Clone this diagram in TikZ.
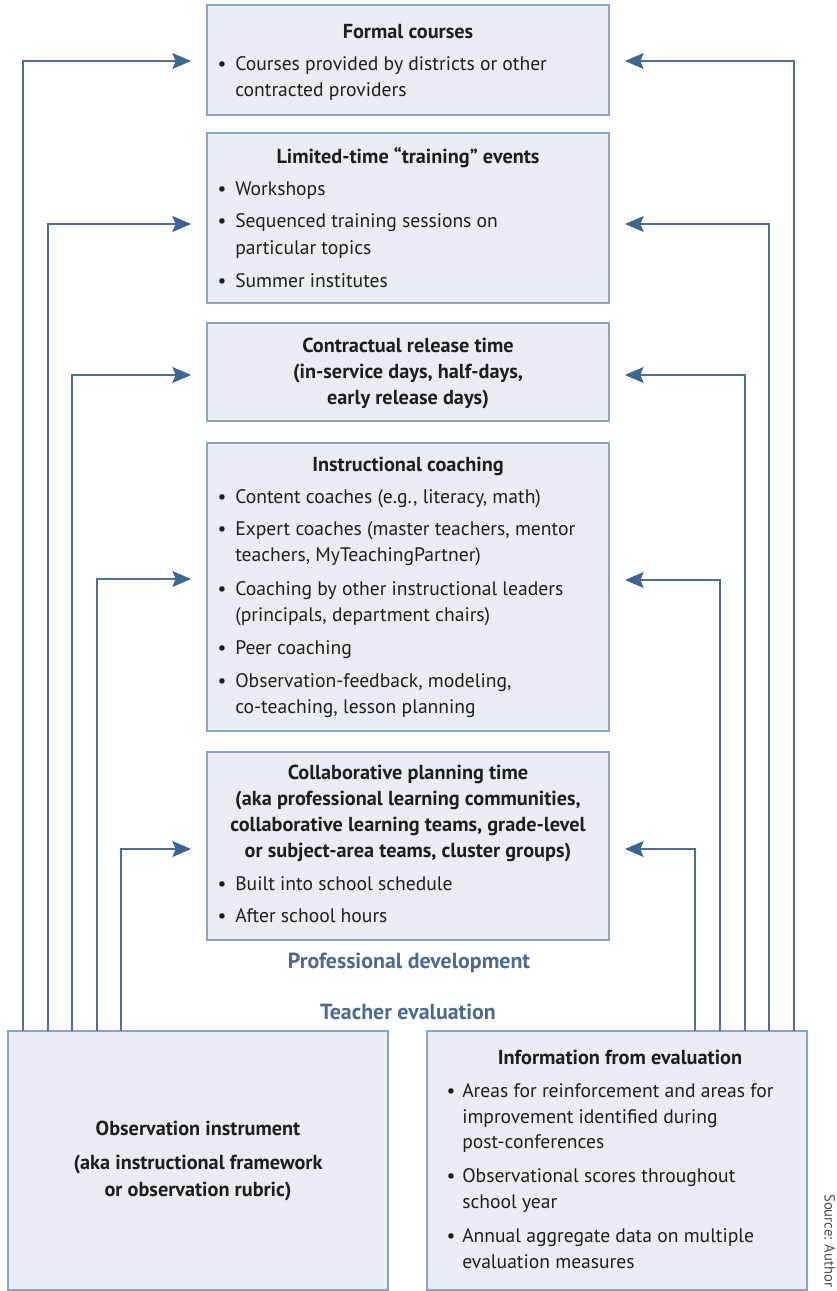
\documentclass[tikz,border=0pt]{standalone}
\usepackage{fontspec}
\setmainfont{PT Sans}
\usetikzlibrary{arrows.meta,fit}
\definecolor{boxfill}{HTML}{E9EDF3}
\definecolor{boxline}{HTML}{8DA2BC}
\definecolor{connc}{HTML}{4E6E94}
\definecolor{headc}{HTML}{3D6592}
\definecolor{labc}{HTML}{4A6A90}
\definecolor{ink}{HTML}{1E1E1E}
\begin{document}
\begin{tikzpicture}[x=0.75pt,y=-0.75pt,
  font=\fontsize{14.7}{17}\selectfont,
  pdbox/.style={draw=boxline, fill=boxfill, line width=0.9pt, inner sep=0pt, outer sep=0pt},
  txt/.style={anchor=mid west, inner sep=0pt, text=ink, yshift=-2.4pt},
  ttl/.style={anchor=mid, inner sep=0pt, text=ink, yshift=-2.4pt, font=\fontsize{15.2}{17}\selectfont\bfseries},
  bul/.style={anchor=mid, inner sep=0pt, text=ink, yshift=-2.4pt},
  sect/.style={anchor=mid, inner sep=0pt, text=labc, yshift=-2.4pt, font=\fontsize{16.4}{18}\selectfont\bfseries},
  connl/.style={draw=connc, line width=0.8pt, -{Stealth[length=14pt,width=12pt,inset=2.5pt,fill=headc,color=headc]}, shorten >=12pt},
  connr/.style={draw=connc, line width=0.8pt, -{Stealth[length=14pt,width=12pt,inset=2.5pt,fill=headc,color=headc]}, shorten >=12pt}
]
\useasboundingbox (0,0) rectangle (837,1291);

% professional development boxes
\node[pdbox, fit={(207,5) (609,115)}] (b1) {};
\node[pdbox, fit={(207,133) (609,303)}] (b2) {};
\node[pdbox, fit={(207,323) (609,421)}] (b3) {};
\node[pdbox, fit={(207,443) (609,731)}] (b4) {};
\node[pdbox, fit={(207,752) (609,940)}] (b5) {};
% evaluation boxes
\node[pdbox, fit={(8,1031) (388,1290)}] (obs) {};
\node[pdbox, fit={(427,1031) (807,1290)}] (info) {};

% box 1
\node[ttl] (t1) at (408,32) {Formal courses};
\node[bul] (t1b1) at (222,64) {•};
\node[txt] (t1a) at (235,64) {Courses provided by districts or other};
\node[txt] (t1b) at (235,90) {contracted providers};

% box 2
\node[ttl] (t2) at (408,157) {Limited-time “training” events};
\node[bul] (t2b1) at (222,189) {•};
\node[txt] (t2a) at (235,189) {Workshops};
\node[bul] (t2b2) at (222,221) {•};
\node[txt] (t2b) at (235,221) {Sequenced training sessions on};
\node[txt] (t2c) at (235,248) {particular topics};
\node[bul] (t2b3) at (222,281) {•};
\node[txt] (t2d) at (235,281) {Summer institutes};

% box 3
\node[ttl] (t3a) at (408,346) {Contractual release time};
\node[ttl] (t3b) at (408,372) {(in-service days, half-days,};
\node[ttl] (t3c) at (408,398) {early release days)};

% box 4
\node[ttl] (t4) at (408,465) {Instructional coaching};
\node[bul] (t4b1) at (222,497) {•};
\node[txt] (t4a) at (235,497) {Content coaches (e.g., literacy, math)};
\node[bul] (t4b2) at (222,529) {•};
\node[txt] (t4b) at (235,529) {Expert coaches (master teachers, mentor};
\node[txt] (t4c) at (235,555) {teachers, MyTeachingPartner)};
\node[bul] (t4b3) at (222,589) {•};
\node[txt] (t4d) at (235,589) {Coaching by other instructional leaders};
\node[txt] (t4e) at (235,615) {(principals, department chairs)};
\node[bul] (t4b4) at (222,648) {•};
\node[txt] (t4f) at (235,648) {Peer coaching};
\node[bul] (t4b5) at (222,681) {•};
\node[txt] (t4g) at (235,681) {Observation-feedback, modeling,};
\node[txt] (t4h) at (235,707) {co-teaching, lesson planning};

% box 5
\node[ttl] (t5a) at (408,773) {Collaborative planning time};
\node[ttl] (t5b) at (408,799) {(aka professional learning communities,};
\node[ttl] (t5c) at (408,825) {collaborative learning teams, grade-level};
\node[ttl] (t5d) at (408,851) {or subject-area teams, cluster groups)};
\node[bul] (t5b1) at (222,884) {•};
\node[txt] (t5e) at (235,884) {Built into school schedule};
\node[bul] (t5b2) at (222,916) {•};
\node[txt] (t5f) at (235,916) {After school hours};

% section labels
\node[sect] (pd) at (409,962) {Professional development};
\node[sect] (te) at (408,1013) {Teacher evaluation};

% observation instrument
\node[ttl] (o1) at (198,1129) {Observation instrument};
\node[ttl] (o2) at (198,1163) {(aka instructional framework};
\node[ttl] (o3) at (198,1190) {or observation rubric)};

% information from evaluation
\node[ttl] (i0) at (620,1058) {Information from evaluation};
\node[bul] (ib1) at (451,1091) {•};
\node[txt] (i1) at (462,1091) {Areas for reinforcement and areas for};
\node[txt] (i2) at (462,1117) {improvement identified during};
\node[txt] (i3) at (462,1142) {post-conferences};
\node[bul] (ib2) at (451,1176) {•};
\node[txt] (i4) at (462,1176) {Observational scores throughout};
\node[txt] (i5) at (462,1202) {school year};
\node[bul] (ib3) at (451,1236) {•};
\node[txt] (i6) at (462,1236) {Annual aggregate data on multiple};
\node[txt] (i7) at (462,1262) {evaluation measures};

% source
\node[anchor=mid west, rotate=-90, inner sep=0pt, text=ink!80, font=\fontsize{11}{13}\selectfont] (src) at (828,1194) {Source: Author};

% connectors: left
\coordinate (L1) at (23,1031);
\coordinate (L2) at (48,1031);
\coordinate (L3) at (72,1031);
\coordinate (L4) at (97,1031);
\coordinate (L5) at (121,1031);
\draw[connl] (L1) |- (b1.west |- 0,61);
\draw[connl] (L2) |- (b2.west |- 0,224);
\draw[connl] (L3) |- (b3.west |- 0,375);
\draw[connl] (L4) |- (b4.west |- 0,579);
\draw[connl] (L5) |- (b5.west |- 0,849);
% connectors: right
\coordinate (R1) at (794,1031);
\coordinate (R2) at (769,1031);
\coordinate (R3) at (745,1031);
\coordinate (R4) at (720,1031);
\coordinate (R5) at (695,1031);
\draw[connr] (R1) |- (b1.east |- 0,61);
\draw[connr] (R2) |- (b2.east |- 0,224);
\draw[connr] (R3) |- (b3.east |- 0,375);
\draw[connr] (R4) |- (b4.east |- 0,580);
\draw[connr] (R5) |- (b5.east |- 0,849);
\end{tikzpicture}
\end{document}
